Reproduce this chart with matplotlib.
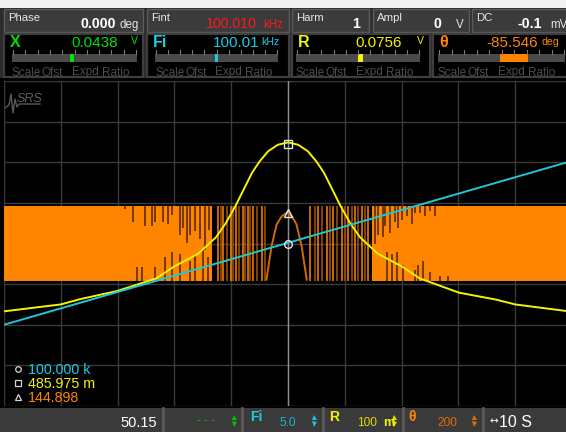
import matplotlib
matplotlib.use("Agg")
import matplotlib.pyplot as plt
from matplotlib.patches import Rectangle

plt.rcParams['font.family'] = ['Liberation Sans', 'DejaVu Sans']

# ---------------- data (screen divisions: x = time div (10 s/div), y = div) ----------------
# R trace (yellow, 100 m/div)
r_x = [0.0, 1.0, 1.34, 1.99, 2.68, 2.99, 3.42, 3.73, 3.9, 4.07, 4.22, 4.37, 4.5, 4.65, 4.82,
       5.0, 5.18, 5.35, 5.5, 5.63, 5.78, 5.93, 6.1, 6.27, 6.58, 7.01, 7.32, 8.01, 8.66, 9.0, 9.89]
r_y = [-1.67, -1.5, -1.37, -1.17, -0.86, -0.57, -0.25, 0.15, 0.49, 0.91, 1.33, 1.75, 2.02, 2.27, 2.43,
       2.49, 2.43, 2.27, 2.02, 1.75, 1.33, 0.91, 0.49, 0.15, -0.25, -0.57, -0.86, -1.21, -1.38, -1.5, -1.66]

# Fi trace (cyan, 5.0 Hz/div) - straight sweep
fi_x = [0.0, 9.89]
fi_y = [-2.0, 1.99]

# theta trace (orange, 200 deg/div): wrapped noise band
theta_band_start = [0.0, 6.48]
theta_band_end = [3.66, 9.89]
theta_hi = 0.93
theta_lo = -0.93
theta_wrap_x = [3.77, 3.82, 3.85, 3.92, 3.99, 4.04, 4.08, 4.14, 4.20, 4.24, 4.30, 4.33, 4.39,
                4.45, 4.54, 4.60,
                5.39, 5.48, 5.53, 5.59, 5.68, 5.74, 5.80, 5.86, 5.95, 6.00, 6.06, 6.12, 6.18,
                6.24, 6.30, 6.36, 6.41]
theta_hump_x = [4.62, 4.71, 4.80, 4.89, 4.98, 5.07, 5.15, 5.24, 5.33]
theta_hump_y = [-0.89, -0.07, 0.47, 0.67, 0.76, 0.67, 0.47, -0.07, -0.89]
notch_top_x = [2.13, 2.27, 2.48, 2.61, 2.66, 2.80, 2.89, 2.96, 3.10, 3.15, 3.22, 3.27, 3.36, 3.45, 3.54, 3.61,
               6.53, 6.58, 6.67, 6.71, 6.80, 6.88, 6.94, 7.01, 7.10, 7.18, 7.24, 7.32, 7.41, 7.50, 7.59]
notch_top_y = [0.84, 0.52, 0.42, 0.42, 0.52, 0.52, 0.47, 0.71, 0.22, 0.39, 0.02, 0.22, 0.30, 0.10, -0.15, 0.34,
               -0.02, 0.22, 0.15, 0.42, 0.27, 0.52, 0.39, 0.59, 0.67, 0.47, 0.76, 0.76, 0.67, 0.79, 0.67]
notch_bot_x = [2.34, 2.43, 2.66, 2.83, 2.96, 3.10, 3.27, 3.36, 3.50, 3.59,
               6.74, 6.83, 6.92, 7.02, 7.24, 7.29, 7.38, 7.50, 7.68, 7.82]
notch_bot_y = [-0.59, -0.59, -0.59, -0.32, -0.20, -0.27, -0.44, -0.27, -0.15, -0.34,
               -0.22, -0.27, -0.22, -0.52, -0.64, -0.52, -0.44, -0.69, -0.81, -0.81]

cursor_x = 5.0
cursor_fi, cursor_r, cursor_theta = 0.0, 2.44, 0.74

# header readouts
top_labels = ["Phase", "Fint", "Harm", "Ampl", "DC"]
top_values = ["0.000", "100.010", "1", "0", "-0.1"]
top_units = ["deg", "kHz", "", "V", "mV"]
ch_labels = ["X", "Fi", "R", "θ"]
ch_values = ["0.0438", "100.01", "0.0756", "-85.546"]
ch_units = ["V", "kHz", "V", "deg"]
cursor_labels = ["100.000 k", "485.975 m", "144.898"]
scale_values = ["- - -", "5.0", "100", "200"]

# ---------------- colours ----------------
C_GREEN = '#00e000'
C_CYAN = '#17cfe3'
C_YEL = '#f4f400'
C_ORG = '#ff8400'
C_RED = '#ff1a1a'

W, H = 566, 432
fig = plt.figure(figsize=(W / 100, H / 100), dpi=100)
fig.patch.set_facecolor('#f2f2f2')

ui = fig.add_axes([0, 0, 1, 1], zorder=0)
ui.set_xlim(0, W); ui.set_ylim(H, 0); ui.axis('off')
ui.add_patch(Rectangle((0, 8), W, H - 8, fc='#2c2c2c', lw=0))
ui.add_patch(Rectangle((0, 78), W, 330, fc='black', lw=0))

# row 1 boxes
row1 = [(4, 143), (147, 289), (292, 369), (373, 469), (472, 570)]
for (x0, x1) in row1:
    ui.add_patch(Rectangle((x0, 9), x1 - x0, 23, fc='#3b3b3b', ec='#5c5c5c', lw=1))
val_right = [116, 257, 360, 441, 542]
unit_left = [120, 263, 0, 456, 550]
for i, (x0, x1) in enumerate(row1):
    ui.text(x0 + 4, 21, top_labels[i], color='#e6e6e6', fontsize=8.2, va='baseline')
    col = C_RED if i == 1 else 'white'
    ui.text(val_right[i], 28, top_values[i], color=col, fontsize=10.2, va='baseline', ha='right',
            fontweight='normal' if i == 1 else 'bold')
    if top_units[i]:
        ui.text(unit_left[i], 28, top_units[i], color=col if i == 1 else '#e6e6e6', fontsize=8.3,
                va='baseline')

# row 2 boxes
row2 = [(4, 143), (147, 289), (292, 430), (433, 570)]
ch_cols = [C_GREEN, C_CYAN, C_YEL, C_ORG]
ch_val_right = [118, 259, 402, 538]
ch_unit_left = [131, 261, 417, 541]
ch_unit_base = [43.5, 45, 43.5, 45]
bar_span = [(12, 137), (155, 278), (296, 420), (438, 565)]
ind_span = [(70, 74), (215, 218), (358, 363), (500, 528)]
for i, (x0, x1) in enumerate(row2):
    ui.add_patch(Rectangle((x0, 34), x1 - x0, 43, fc='black', ec='#3e3e3e', lw=1.6))
    ui.text(x0 + 6, 47, ch_labels[i], color=ch_cols[i], fontsize=11.5, va='baseline', fontweight='bold')
    ui.text(ch_val_right[i], 47, ch_values[i], color=ch_cols[i], fontsize=11, va='baseline', ha='right')
    ui.text(ch_unit_left[i], ch_unit_base[i], ch_units[i], color=ch_cols[i], fontsize=7.6, va='baseline')
    b0, b1 = bar_span[i]
    ui.add_patch(Rectangle((b0, 53.5), b1 - b0, 8, fc='#4a4a4a', lw=0))
    for k in range(11):
        tx = b0 + 1 + k * (b1 - b0 - 2) / 10
        ui.plot([tx, tx], [50, 53.5], color='#7a7a7a', lw=0.8)
    i0, i1 = ind_span[i]
    ui.add_patch(Rectangle((i0, 53.5), i1 - i0, 8, fc=ch_cols[i], lw=0))
    for w, off in zip(["Scale", "Ofst", "Expd", "Ratio"], [0, 30, 60, 90]):
        ui.text(b0 + off, 75.5, w, color='#4c4c4c', fontsize=8.5, va='baseline')

# SRS logo
ui.plot([5, 9, 11, 13, 15, 17, 19, 40], [108, 105, 94, 113, 99, 107, 104, 104], color='#5a5a5a', lw=1)
ui.text(17, 102, "SRS", color='#5f5f5f', fontsize=9, style='italic', va='baseline')

# ---------------- plot ----------------
ax = fig.add_axes([4 / W, (H - 406) / H, 562 / W, 325 / H], zorder=1)
ax.set_facecolor('none')
ax.set_xlim(0, 562 / 56.8)
ax.set_ylim(-4, 4)
for s in ax.spines.values():
    s.set_visible(False)
ax.set_xticks([]); ax.set_yticks([])
for gx in range(0, 10):
    ax.axvline(gx, color='#3a3a3a', lw=1, zorder=0.5)
for gy in range(-4, 5):
    ax.axhline(gy, color='#3a3a3a', lw=1, zorder=0.5)
ax.axvline(cursor_x, color='#8c8c8c', lw=1, zorder=0.6)

for a, b in zip(theta_band_start, theta_band_end):
    ax.fill_between([a, b], theta_lo, theta_hi, color=C_ORG, lw=0, zorder=1)
wrap_cols = [C_ORG if k % 2 == 0 else '#a85600' for k in range(len(theta_wrap_x))]
ax.vlines(theta_wrap_x, theta_lo, theta_hi, colors=wrap_cols, lw=1.1, zorder=1.1)
ax.vlines(notch_top_x, notch_top_y, theta_hi, colors='#4a2400', lw=1.1, zorder=1.2)
ax.vlines(notch_bot_x, theta_lo, notch_bot_y, colors='#4a2400', lw=1.1, zorder=1.2)
ax.plot(theta_hump_x, theta_hump_y, color='#d06c00', lw=1.4, zorder=1.3)

ax.plot(r_x, r_y, color=C_YEL, lw=1.4, zorder=2)
ax.plot(fi_x, fi_y, color='#1fc6d6', lw=1.4, zorder=2.1)

mk = dict(mfc='none', mec='#e4e4e4', mew=1, zorder=3, ls='none')
ax.plot([cursor_x], [cursor_fi], marker='o', ms=5.5, **mk)
ax.plot([cursor_x], [cursor_r], marker='s', ms=5.5, **mk)
ax.plot([cursor_x], [cursor_theta], marker='^', ms=6, **mk)

# ---------------- foreground: cursor legend + bottom bar ----------------
fg = fig.add_axes([0, 0, 1, 1], zorder=2)
fg.set_xlim(0, W); fg.set_ylim(H, 0); fg.axis('off')
leg_cols = [C_CYAN, C_YEL, C_ORG]
for k, (m, yy) in enumerate(zip(['o', 's', '^'], [369, 383, 397])):
    fg.plot([18], [yy], marker=m, ms=4, mfc='none', mec='#d8d8d8', mew=0.9)
    fg.text(28, yy + 5, cursor_labels[k], color=leg_cols[k], fontsize=10.3, va='baseline')

fg.add_patch(Rectangle((0, 408), W, 24, fc='#3a3a3a', lw=0))
for sx in [163, 242, 323, 403, 483]:
    fg.plot([sx, sx], [408, 432], color='#5a5a5a', lw=2)
fg.text(157, 427, "50.15", color='white', fontsize=10.5, va='baseline', ha='right')

fg.text(197, 424, scale_values[0], color='#00b800', fontsize=8.5, va='baseline')
seg_lab = [(250, "Fi", C_CYAN), (329, "R", C_YEL), (408, "θ", C_ORG)]
for x, s, c in seg_lab:
    fg.text(x, 421, s, color=c, fontsize=10, fontweight='bold', va='baseline')
fg.text(280, 426, scale_values[1], color='#1ab8d0', fontsize=8.6, va='baseline')
fg.text(357, 426, scale_values[2], color='#e4dc00', fontsize=8.6, va='baseline')
fg.text(383, 426, "m", color=C_YEL, fontsize=9, fontweight='bold', va='baseline')
fg.text(437, 426, scale_values[3], color='#e07000', fontsize=8.6, va='baseline')
for x, c in [(233.5, '#00c000'), (314, '#20c0d8'), (394, '#e8e000'), (474, '#e07000')]:
    fg.plot([x], [416.5], marker='^', ms=3.6, color=c, mew=0)
    fg.plot([x], [423.5], marker='v', ms=3.6, color=c, mew=0)
fg.text(489, 424, "↔", color='white', fontsize=7.5, va='baseline', family=['DejaVu Sans'])
fg.text(499, 427, "10 S", color='white', fontsize=11.5, va='baseline')

fig.savefig('out.png', dpi=100, facecolor=fig.get_facecolor())
